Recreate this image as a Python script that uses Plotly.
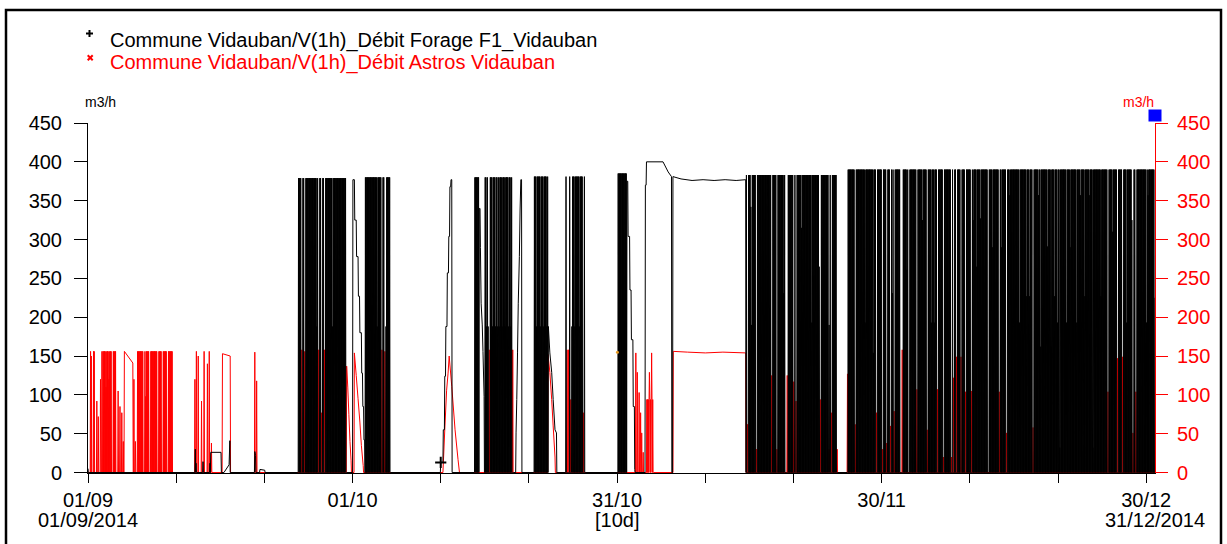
import pandas as pd
import plotly.graph_objects as go

# Hourly volumes, 1 September 2014 00:00 to 31 December 2014 00:00
T0 = "2014-09-01 00:00"
T1 = "2014-12-31 00:00"

# ---------------- Forage F1 (black) ----------------
# periods where the borehole pump cycles on/off from one hour to the next
F1_CYCLE_START = ["2014-09-24 20:00", "2014-10-02 10:00", "2014-10-14 20:00", "2014-10-16 00:00",
                  "2014-10-21 14:00", "2014-10-25 04:00", "2014-10-31 02:00", "2014-11-14 15:00",
                  "2014-11-26 04:00"]
F1_CYCLE_END = ["2014-09-30 06:00", "2014-10-05 06:00", "2014-10-15 08:00", "2014-10-19 05:00",
                "2014-10-23 04:00", "2014-10-27 08:00", "2014-11-01 02:00", "2014-11-24 22:00",
                "2014-12-30 22:00"]
F1_CYCLE_FLOW = [379, 380, 380, 380, 381, 381, 385, 383, 390]

# hours inside those periods where F1 stayed low (flow reached), with the Astros flow meanwhile
F1_DIP_TIME = [
    "2014-09-25 05:00", "2014-09-25 12:00", "2014-09-26 22:00", "2014-09-27 03:00", "2014-09-27 10:00",
    "2014-09-27 19:00", "2014-09-28 17:00",
    "2014-10-03 18:00", "2014-10-04 07:00", "2014-10-04 15:00", "2014-10-04 19:00",
    "2014-10-16 04:00", "2014-10-16 08:00", "2014-10-16 11:00", "2014-10-16 20:00", "2014-10-17 04:00",
    "2014-10-17 10:00", "2014-10-17 15:00", "2014-10-17 22:00", "2014-10-18 07:00", "2014-10-18 16:00",
    "2014-10-18 23:00", "2014-10-19 03:00",
    "2014-10-21 21:00", "2014-10-22 06:00", "2014-10-22 15:00", "2014-10-23 00:00",
    "2014-10-25 07:00", "2014-10-25 11:00", "2014-10-25 16:00", "2014-10-25 20:00", "2014-10-26 05:00",
    "2014-10-26 17:00", "2014-10-27 02:00",
    "2014-11-14 18:00", "2014-11-15 03:00", "2014-11-15 06:00", "2014-11-15 17:00", "2014-11-17 11:00",
    "2014-11-18 02:00", "2014-11-18 21:00", "2014-11-19 02:00", "2014-11-19 05:00", "2014-11-19 23:00",
    "2014-11-20 06:00", "2014-11-20 22:00", "2014-11-22 01:00", "2014-11-22 21:00", "2014-11-23 00:00",
    "2014-11-23 23:00", "2014-11-24 01:00", "2014-11-24 05:00", "2014-11-24 21:00",
    "2014-11-26 23:00", "2014-11-28 02:00", "2014-11-29 01:00", "2014-11-29 08:00", "2014-11-30 00:00",
    "2014-11-30 12:00", "2014-11-30 22:00", "2014-12-01 05:00", "2014-12-01 09:00", "2014-12-02 03:00",
    "2014-12-02 06:00", "2014-12-02 20:00", "2014-12-03 00:00", "2014-12-03 23:00", "2014-12-04 15:00",
    "2014-12-05 02:00", "2014-12-05 14:00", "2014-12-05 23:00", "2014-12-06 07:00", "2014-12-06 23:00",
    "2014-12-07 20:00", "2014-12-08 03:00", "2014-12-08 10:00", "2014-12-08 23:00", "2014-12-09 10:00",
    "2014-12-10 02:00", "2014-12-10 09:00", "2014-12-10 18:00", "2014-12-11 05:00", "2014-12-12 00:00",
    "2014-12-12 13:00", "2014-12-13 07:00", "2014-12-13 14:00", "2014-12-14 02:00", "2014-12-14 13:00",
    "2014-12-15 14:00", "2014-12-16 10:00", "2014-12-16 18:00", "2014-12-17 02:00", "2014-12-17 18:00",
    "2014-12-18 01:00", "2014-12-18 18:00", "2014-12-19 04:00", "2014-12-19 15:00", "2014-12-19 22:00",
    "2014-12-20 05:00", "2014-12-20 23:00", "2014-12-21 08:00", "2014-12-22 02:00", "2014-12-22 13:00",
    "2014-12-23 01:00", "2014-12-23 13:00", "2014-12-23 23:00", "2014-12-24 20:00", "2014-12-25 15:00",
    "2014-12-26 04:00", "2014-12-26 17:00", "2014-12-27 07:00", "2014-12-27 18:00", "2014-12-28 08:00",
    "2014-12-28 11:00", "2014-12-28 19:00", "2014-12-30 01:00", "2014-12-30 05:00",
]
F1_DIP_FLOW = [
    0, 0, 188, 0, 0, 0, 188,
    188, 0, 0, 188,
    188, 188, 0, 188, 188, 188, 188, 188, 188, 188, 188, 0,
    188, 188, 188, 188,
    0, 0, 0, 188, 188, 188, 0,
    0, 342, 190, 0, 0, 0, 231, 0, 0, 0, 0, 315, 193, 265, 0, 0, 190, 0, 0,
    0, 193, 154, 0, 0, 0, 0, 231, 0, 0,
    0, 261, 0, 0, 325, 0, 193, 193, 0, 0,
    0, 0, 0, 0, 0, 0, 325, 265, 327, 0,
    290, 0, 290, 0, 357, 193, 227, 227, 0, 357,
    162, 291, 162, 227, 193, 32, 193, 290, 193, 357,
    227, 357, 32, 227, 0, 310, 0, 0, 193, 325,
    0, 0, 193, 357,
]
F1_DIP_ASTROS = [
    158, 156, 0, 158, 77, 158, 0,
    0, 158, 156, 0,
    0, 0, 158, 0, 0, 0, 0, 0, 0, 0, 0, 158,
    0, 0, 0, 0,
    158, 158, 94, 0, 0, 0, 77,
    62, 0, 0, 30, 125, 30, 0, 0, 125, 117, 92, 0, 0, 0, 94, 30, 0, 77, 30,
    62, 0, 0, 77, 30, 38, 60, 0, 79, 0,
    158, 0, 0, 107, 0, 55, 0, 0, 107, 20,
    20, 122, 149, 149, 104, 105, 0, 0, 0, 0,
    0, 104, 0, 51, 0, 0, 0, 0, 58, 0,
    0, 0, 0, 0, 0, 0, 0, 0, 0, 0,
    0, 0, 0, 0, 104, 0, 147, 149, 0, 0,
    51, 104, 0, 0,
]

# individual hourly readings outside the cycling periods
F1_READ_TIME = [
    "2014-09-01 00:00", "2014-09-01 01:00", "2014-09-13 03:00", "2014-09-13 04:00", "2014-09-13 05:00",
    "2014-09-13 06:00", "2014-09-13 07:00", "2014-09-14 00:00", "2014-09-14 01:00", "2014-09-14 02:00",
    "2014-09-14 19:00", "2014-09-14 20:00", "2014-09-14 21:00", "2014-09-14 22:00", "2014-09-16 02:00",
    "2014-09-16 03:00", "2014-09-16 10:00", "2014-09-17 00:00", "2014-09-17 02:00", "2014-09-17 03:00",
    "2014-09-19 21:00", "2014-09-19 22:00", "2014-09-20 00:00", "2014-09-20 01:00", "2014-09-20 11:00",
    "2014-09-20 12:00", "2014-09-21 01:00", "2014-09-21 02:00", "2014-09-24 19:00",
    "2014-09-30 07:00", "2014-10-01 00:00", "2014-10-01 01:00", "2014-10-01 05:00", "2014-10-01 06:00",
    "2014-10-01 10:00", "2014-10-01 11:00", "2014-10-01 15:00", "2014-10-01 16:00", "2014-10-01 19:00",
    "2014-10-01 20:00", "2014-10-02 00:00", "2014-10-02 01:00", "2014-10-02 03:00", "2014-10-02 04:00",
    "2014-10-02 06:00", "2014-10-02 07:00", "2014-10-02 09:00",
    "2014-10-05 07:00", "2014-10-10 23:00", "2014-10-11 00:00", "2014-10-11 06:00", "2014-10-11 07:00",
    "2014-10-11 10:00", "2014-10-11 11:00", "2014-10-11 13:00", "2014-10-11 14:00", "2014-10-11 17:00",
    "2014-10-11 18:00", "2014-10-11 21:00", "2014-10-11 22:00", "2014-10-12 00:00", "2014-10-12 01:00",
    "2014-10-12 03:00", "2014-10-12 04:00", "2014-10-12 06:00", "2014-10-12 07:00", "2014-10-14 19:00",
    "2014-10-15 09:00", "2014-10-15 11:00", "2014-10-15 12:00", "2014-10-15 14:00", "2014-10-15 17:00",
    "2014-10-15 19:00", "2014-10-15 22:00", "2014-10-15 23:00",
    "2014-10-19 06:00", "2014-10-19 12:00", "2014-10-19 13:00", "2014-10-19 15:00", "2014-10-19 17:00",
    "2014-10-19 19:00", "2014-10-19 22:00", "2014-10-20 00:00", "2014-10-20 02:00", "2014-10-20 04:00",
    "2014-10-20 05:00", "2014-10-21 13:00",
    "2014-10-23 05:00", "2014-10-23 09:00", "2014-10-23 14:00", "2014-10-23 18:00", "2014-10-23 23:00",
    "2014-10-24 03:00", "2014-10-24 04:00", "2014-10-27 09:00",
    "2014-11-01 03:00", "2014-11-01 05:00", "2014-11-01 06:00", "2014-11-01 10:00", "2014-11-01 11:00",
    "2014-11-01 14:00", "2014-11-01 15:00", "2014-11-01 19:00", "2014-11-01 20:00", "2014-11-01 23:00",
    "2014-11-02 00:00", "2014-11-02 01:00",
    "2014-11-03 04:00", "2014-11-03 05:00", "2014-11-03 07:00", "2014-11-03 08:00", "2014-11-05 05:00",
    "2014-11-05 19:00", "2014-11-06 04:00", "2014-11-06 05:00", "2014-11-06 07:00", "2014-11-06 08:00",
    "2014-11-07 06:00", "2014-11-08 12:00", "2014-11-09 18:00", "2014-11-11 00:00", "2014-11-12 06:00",
    "2014-11-13 12:00", "2014-11-14 14:00",
    "2014-11-24 23:00", "2014-11-26 03:00", "2014-12-30 23:00", "2014-12-31 00:00",
]
F1_READ_FLOW = [
    5, 0, 0, 30, 0,
    12, 0, 0, 14, 0,
    0, 12, 0, 26, 26,
    0, 0, 10, 41, 0,
    0, 27, 22, 0, 0,
    4, 3, 0, 0,
    0, 0, 377, 377, 325,
    325, 278, 278, 227, 227,
    180, 180, 128, 128, 85,
    85, 42, 42,
    0, 0, 13, 13, 55,
    55, 124, 124, 188, 188,
    257, 257, 304, 304, 368,
    368, 377, 377, 0, 0,
    340, 340, 290, 218, 190,
    156, 98, 0,
    0, 0, 51, 94, 154,
    218, 278, 338, 377, 377,
    0, 0,
    188, 154, 129, 94, 55,
    51, 0, 0,
    375, 375, 304, 304, 235,
    235, 171, 171, 85, 85,
    4, 0,
    0, 370, 370, 400, 400,
    387, 381, 0, 0, 381,
    378, 376, 377, 376, 377,
    376, 377,
    0, 0, 0, 225,
]

# flagged readings shown with the series symbol
F1_FLAG_TIME = ["2014-10-11 00:00"]
F1_FLAG_FLOW = [13]

# ---------------- Astros (red) ----------------
AST_CYCLE_START = ["2014-09-02 16:00", "2014-09-06 14:00", "2014-11-03 08:00"]
AST_CYCLE_END = ["2014-09-04 04:00", "2014-09-10 22:00", "2014-11-04 02:00"]
AST_CYCLE_FLOW = [156, 156, 94]

AST_DIP_TIME = ["2014-09-03 01:00", "2014-09-03 09:00", "2014-09-03 17:00", "2014-09-07 07:00",
                "2014-09-07 12:00", "2014-09-07 23:00", "2014-09-08 20:00", "2014-09-09 09:00",
                "2014-09-09 23:00", "2014-09-10 14:00", "2014-09-10 19:00"]
AST_DIP_FLOW = [110, 120, 0, 0, 98, 0, 0, 0, 0, 0, 0]

# single-hour runs of the Astros pump
AST_PULSE_TIME = [
    "2014-09-01 07:00", "2014-09-01 09:00", "2014-09-01 15:00", "2014-09-01 17:00", "2014-09-02 00:00",
    "2014-09-02 04:00", "2014-09-02 10:00", "2014-09-02 14:00", "2014-09-04 10:00", "2014-09-04 15:00",
    "2014-09-04 20:00", "2014-09-05 00:00", "2014-09-06 05:00", "2014-09-06 09:00", "2014-09-13 03:00",
    "2014-09-13 07:00", "2014-09-13 12:00", "2014-09-13 21:00", "2014-09-14 04:00", "2014-09-14 13:00",
    "2014-09-14 18:00", "2014-09-15 00:00", "2014-09-19 22:00", "2014-09-20 03:00", "2014-11-02 03:00",
    "2014-11-02 07:00", "2014-11-02 12:00", "2014-11-02 16:00", "2014-11-02 19:00", "2014-11-02 23:00",
    "2014-11-03 16:00", "2014-11-03 22:00", "2014-11-26 03:00",
]
AST_PULSE_FLOW = [
    156, 150, 156, 156, 92,
    72, 120, 156, 105, 85,
    77, 40, 120, 40, 120,
    156, 150, 92, 156, 140,
    156, 38, 155, 118, 154,
    129, 103, 77, 51, 26,
    129, 154, 127,
]

AST_READ_TIME = [
    "2014-09-01 00:00", "2014-09-05 02:00", "2014-09-05 03:00", "2014-09-06 02:00", "2014-09-06 03:00",
    "2014-09-16 05:00", "2014-09-16 06:00", "2014-09-17 03:00", "2014-09-17 04:00",
    "2014-09-30 07:00", "2014-09-30 08:00", "2014-09-30 11:00", "2014-09-30 14:00", "2014-09-30 17:00",
    "2014-09-30 20:00", "2014-09-30 21:00",
    "2014-10-01 04:00", "2014-10-01 05:00", "2014-10-01 10:00", "2014-10-01 15:00", "2014-10-01 20:00",
    "2014-10-02 00:00", "2014-10-02 05:00", "2014-10-02 06:00",
    "2014-10-11 06:00", "2014-10-11 11:00", "2014-10-11 16:00", "2014-10-11 20:00", "2014-10-11 23:00",
    "2014-10-12 06:00", "2014-10-12 15:00", "2014-10-12 23:00", "2014-10-13 03:00",
    "2014-10-23 03:00", "2014-10-23 04:00", "2014-10-23 09:00", "2014-10-23 14:00", "2014-10-23 18:00",
    "2014-10-23 23:00", "2014-10-24 00:00",
    "2014-11-06 08:00", "2014-11-06 09:00", "2014-11-08 00:00", "2014-11-10 00:00", "2014-11-12 00:00",
    "2014-11-14 14:00", "2014-11-14 15:00", "2014-12-31 00:00",
]
AST_READ_FLOW = [
    0, 0, 156, 141, 0,
    0, 153, 150, 0,
    0, 137, 110, 75, 40,
    15, 0,
    0, 154, 125, 95, 65,
    35, 9, 0,
    0, 55, 106, 128, 150,
    111, 55, 17, 0,
    0, 152, 129, 94, 60,
    20, 0,
    0, 156, 155, 154, 155,
    154, 0, 0,
]

AST_FLAG_TIME = ["2014-10-31 01:00"]
AST_FLAG_FLOW = [155]

# axis labelling
TICK_DATES = ["2014-09-01", "2014-09-11", "2014-09-21", "2014-10-01", "2014-10-11", "2014-10-21",
              "2014-10-31", "2014-11-10", "2014-11-20", "2014-11-30", "2014-12-10", "2014-12-20",
              "2014-12-30"]
TICK_TEXT = ["01/09", "", "", "01/10", "", "", "31/10", "", "", "30/11", "", "", "30/12"]
SUB_DATES = ["2014-09-01", "2014-10-31", "2014-12-31"]
SUB_TEXT = ["01/09/2014", "[10d]", "31/12/2014"]
Y_TICKS = [0, 50, 100, 150, 200, 250, 300, 350, 400, 450]
# lower bound a hair under zero so the zero line lands on a whole pixel row
Y_RANGE = [-0.6, 450]

LEGEND_F1 = "Commune Vidauban/V(1h)_Débit Forage F1_Vidauban"
LEGEND_AST = "Commune Vidauban/V(1h)_Débit Astros Vidauban"

BLACK = "#000000"
RED = "#ff0000"

t0 = pd.Timestamp(T0)


def hour(ts):
    return int(round((pd.Timestamp(ts) - t0) / pd.Timedelta(hours=1)))


def add_cycles(series, starts, ends, flows):
    for s, e, q in zip(starts, ends, flows):
        h0, h1 = hour(s), hour(e)
        for h in range(h0, h1 + 1):
            series[h] = q if (h - h0) % 2 else 0
        series.setdefault(h1 + 1, 0)


def add_dips(series, times, levels, other=None, other_levels=None):
    """A partial hour stays one running hour; a stop (level 0) lasts two running hours."""
    for i, t in enumerate(times):
        h = hour(t)
        if series.get(h, 0) == 0 and series.get(h + 1, 0) > 0:
            h += 1
        series[h] = levels[i]
        if levels[i] == 0 and series.get(h + 2, 0) > 0:
            series[h + 2] = 0
        if other is not None and other_levels[i] > 0:
            other[h + 1] = other_levels[i]
            other.setdefault(h, 0)
            other.setdefault(h + 2, 0)


def add_pulses(series, times, flows):
    for t, q in zip(times, flows):
        h = hour(t)
        series[h] = q
        series.setdefault(h - 1, 0)
        series.setdefault(h + 1, 0)


def add_readings(series, times, flows):
    for t, q in zip(times, flows):
        series[hour(t)] = q


def to_xy(series):
    hs = sorted(series)
    xs = [t0 + pd.Timedelta(hours=h) for h in hs]
    return xs, [series[h] for h in hs]


f1 = {}
astros = {}
add_cycles(f1, F1_CYCLE_START, F1_CYCLE_END, F1_CYCLE_FLOW)
add_cycles(astros, AST_CYCLE_START, AST_CYCLE_END, AST_CYCLE_FLOW)
add_dips(f1, F1_DIP_TIME, F1_DIP_FLOW, astros, F1_DIP_ASTROS)
add_dips(astros, AST_DIP_TIME, AST_DIP_FLOW)
add_pulses(astros, AST_PULSE_TIME, AST_PULSE_FLOW)
add_readings(f1, F1_READ_TIME, F1_READ_FLOW)
add_readings(astros, AST_READ_TIME, AST_READ_FLOW)

f1_x, f1_y = to_xy(f1)
ast_x, ast_y = to_xy(astros)

# plot-area geometry (pixels) used to place decorations in paper coordinates
L, R, T, B = 88, 1155, 123, 473
W, H = 1227, 544


def px(x):
    return (x - L) / (R - L)


def py(y):
    return (B - y) / (B - T)


fig = go.Figure()
# Astros is drawn first so that F1 sits on top of it; no point thinning on the hourly lines
fig.add_trace(go.Scatter(x=ast_x, y=ast_y, mode="lines",
                         line=dict(color=RED, width=1, simplify=False),
                         hoverinfo="skip", showlegend=False))
fig.add_trace(go.Scatter(x=f1_x, y=f1_y, mode="lines",
                         line=dict(color=BLACK, width=1, simplify=False),
                         hoverinfo="skip", showlegend=False))
fig.add_trace(go.Scatter(x=F1_FLAG_TIME, y=F1_FLAG_FLOW, mode="markers",
                         marker=dict(symbol="cross-thin", size=8, line=dict(color=BLACK, width=2)),
                         hoverinfo="skip", showlegend=False))
fig.add_trace(go.Scatter(x=AST_FLAG_TIME, y=AST_FLAG_FLOW, mode="markers",
                         marker=dict(symbol="circle", size=3, color="#e89a20"),
                         hoverinfo="skip", showlegend=False))
# right-hand scale for the Astros series
fig.add_trace(go.Scatter(x=[T0], y=[None], yaxis="y2", mode="lines", hoverinfo="skip", showlegend=False))

font = "Liberation Sans, Arial, sans-serif"
annotations = [
    dict(x=px(108), y=py(40), xref="paper", yref="paper", text=LEGEND_F1, showarrow=False,
         xanchor="left", yanchor="middle", font=dict(size=20, color=BLACK)),
    dict(x=px(108), y=py(63), xref="paper", yref="paper", text=LEGEND_AST, showarrow=False,
         xanchor="left", yanchor="middle", font=dict(size=20, color=RED)),
    dict(x=px(100), y=py(102), xref="paper", yref="paper", text="m3/h", showarrow=False,
         xanchor="center", yanchor="middle", font=dict(size=14, color=BLACK)),
    dict(x=px(1138), y=py(102), xref="paper", yref="paper", text="m3/h", showarrow=False,
         xanchor="center", yanchor="middle", font=dict(size=14, color=RED)),
]
for d, txt in zip(SUB_DATES, SUB_TEXT):
    annotations.append(dict(x=d, y=py(520), xref="x", yref="paper", text=txt, showarrow=False,
                            xanchor="center", yanchor="middle", font=dict(size=20, color=BLACK)))

shapes = [
    # outer frame
    dict(type="rect", xref="paper", yref="paper", x0=px(6), x1=px(1221), y0=py(560), y1=py(10),
         line=dict(color=BLACK, width=2.5), fillcolor="rgba(0,0,0,0)"),
    # legend symbols
    dict(type="line", xref="paper", yref="paper", x0=px(86), x1=px(93), y0=py(33.5), y1=py(33.5),
         line=dict(color=BLACK, width=2)),
    dict(type="line", xref="paper", yref="paper", x0=px(89.5), x1=px(89.5), y0=py(30), y1=py(37),
         line=dict(color=BLACK, width=2)),
    dict(type="line", xref="paper", yref="paper", x0=px(87.7), x1=px(92.7), y0=py(55.3), y1=py(60.3),
         line=dict(color=RED, width=2)),
    dict(type="line", xref="paper", yref="paper", x0=px(87.7), x1=px(92.7), y0=py(60.3), y1=py(55.3),
         line=dict(color=RED, width=2)),
    # scale handle at the top of the right axis
    dict(type="rect", xref="paper", yref="paper", x0=px(1148.5), x1=px(1161.5), y0=py(121.5), y1=py(109.5),
         line=dict(width=0), fillcolor="#0000ff"),
]

fig.update_layout(
    width=W, height=H,
    margin=dict(l=L, r=W - R, t=T, b=H - B, pad=0),
    paper_bgcolor="white", plot_bgcolor="white",
    showlegend=False, hovermode=False,
    font=dict(family=font, size=20, color=BLACK),
    xaxis=dict(type="date", range=[T0, T1], tickvals=TICK_DATES, ticktext=TICK_TEXT,
               ticks="outside", ticklen=9, tickwidth=1, tickcolor=BLACK,
               showline=True, linecolor=BLACK, linewidth=1, showgrid=False, zeroline=False,
               tickfont=dict(size=20, color=BLACK)),
    yaxis=dict(range=Y_RANGE, tickvals=Y_TICKS, ticks="outside", ticklen=13, tickwidth=1,
               tickcolor=BLACK, showline=True, linecolor=BLACK, linewidth=1, showgrid=False,
               zeroline=False, tickfont=dict(size=20, color=BLACK), ticklabelstandoff=8),
    yaxis2=dict(range=Y_RANGE, tickvals=Y_TICKS, overlaying="y", side="right", anchor="x",
                ticks="outside", ticklen=12, tickwidth=1, tickcolor=RED, showline=True,
                linecolor=RED, linewidth=1, showgrid=False, zeroline=False,
                tickfont=dict(size=20, color=RED), ticklabelstandoff=5),
    annotations=annotations,
    shapes=shapes,
)

fig.write_html("out.html", config={"displayModeBar": False},
               post_script="document.body.style.margin='0';")
